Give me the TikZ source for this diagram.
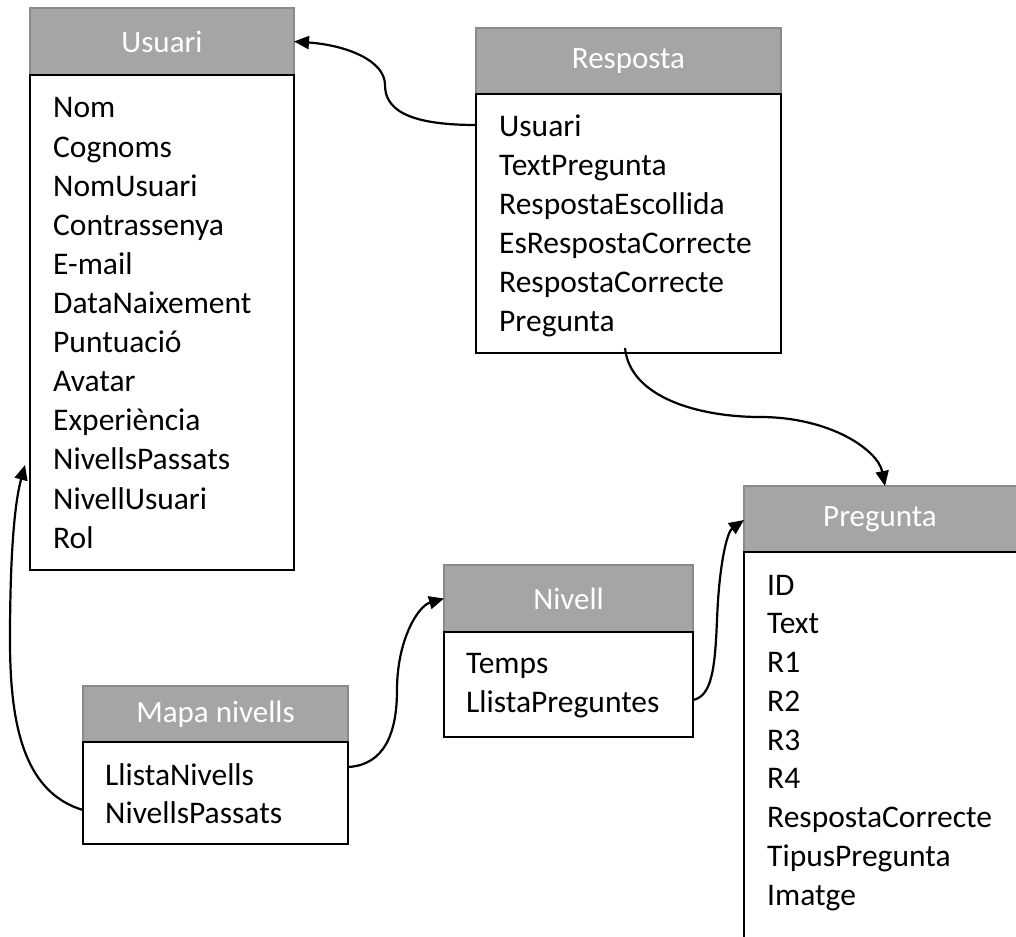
\documentclass[tikz,border=0pt]{standalone}
\usepackage{fontspec}
\setmainfont{Carlito}
\usetikzlibrary{arrows.meta}
\definecolor{hdrgray}{HTML}{A5A5A5}
\definecolor{hdrline}{HTML}{8A8A8A}
\tikzset{
  hdr/.style={rectangle, fill=hdrgray, draw=hdrline, line width=2pt, inner sep=0pt,
    outer sep=0pt, anchor=north west},
  title/.style={text=white, font=\fontsize{31}{37}\selectfont},
  bodybox/.style={rectangle, draw=black, line width=2.2pt, inner sep=0pt,
    outer sep=0pt, anchor=north west, fill=white},
  item/.style={anchor=base west, inner sep=0pt, font=\fontsize{31.5}{37}\selectfont},
  link/.style={line width=2.2pt, -{Triangle[length=15pt,width=13pt]}},
}
\begin{document}
\begin{tikzpicture}[x=1pt,y=-1pt]
\useasboundingbox (0,0) rectangle (1016,936);
\clip (0,0) rectangle (1016,936);

% Usuari
\node[hdr, minimum width=264, minimum height=67] (usuH) at (30,8) {};
\node[title] (usuT) at (usuH.center) {Usuari};
\node[bodybox, minimum width=264, minimum height=495] (usuB) at (30,75) {};
\foreach \t [count=\i] in {Nom,Cognoms,NomUsuari,Contrassenya,E-mail,DataNaixement,Puntuació,Avatar,Experiència,NivellsPassats,NivellUsuari,Rol}
  \node[item] (u\i) at (53,{118+(\i-1)*39.1}) {\t};

% Resposta
\node[hdr, minimum width=305, minimum height=66] (resH) at (476,28) {};
\node[title] (resT) at (resH.center) {Resposta};
\node[bodybox, minimum width=305, minimum height=259] (resB) at (476,94) {};
\foreach \t [count=\i] in {Usuari,TextPregunta,RespostaEscollida,EsRespostaCorrecte,RespostaCorrecte,Pregunta}
  \node[item] (r\i) at (499,{137+(\i-1)*38.8}) {\t};

% Pregunta
\node[hdr, minimum width=310, minimum height=66] (preH) at (744,486) {};
\node[title] (preT) at (880,519) {Pregunta};
\node[bodybox, minimum width=310, minimum height=460] (preB) at (744,552) {};
\foreach \t [count=\i] in {ID,Text,R1,R2,R3,R4,RespostaCorrecte,TipusPregunta,Imatge}
  \node[item] (p\i) at (767,{595+(\i-1)*38.75}) {\t};

% Nivell
\node[hdr, minimum width=249, minimum height=67] (nivH) at (444,565) {};
\node[title] (nivT) at (nivH.center) {Nivell};
\node[bodybox, minimum width=249, minimum height=105] (nivB) at (444,632) {};
\node[item] (n1) at (466,673) {Temps};
\node[item] (n2) at (466,712) {LlistaPreguntes};

% Mapa nivells
\node[hdr, minimum width=265, minimum height=56] (mapH) at (83,686) {};
\node[title] (mapT) at (mapH.center) {Mapa nivells};
\node[bodybox, minimum width=265, minimum height=102] (mapB) at (83,742) {};
\node[item] (m1) at (105,785) {LlistaNivells};
\node[item] (m2) at (105,823) {NivellsPassats};

% connectors
\coordinate (a1) at (resB.west |- 0,125);
\coordinate (a1m) at (385,85);
\coordinate (a1e) at (usuH.east);
\draw[link] (a1) .. controls (405,125) and (385,108) .. (a1m)
  .. controls (385,60) and (345,45) .. (a1e);

\coordinate (b1) at (625,348);
\coordinate (b1m) at (760,417);
\coordinate (b1e) at (885,486);
\draw[link] (b1) .. controls (630,398) and (700,417) .. (b1m)
  .. controls (830,417) and (878,450) .. (b1e);

\coordinate (c1) at (mapB.west |- 0,810);
\coordinate (c1m) at (10,640);
\coordinate (c1e) at (25,465);
\draw[link] (c1) .. controls (22,792) and (10,720) .. (c1m)
  .. controls (10,560) and (14,505) .. (c1e);

\coordinate (d1) at (mapB.east |- 0,767);
\coordinate (d1m) at (397,690);
\coordinate (d1e) at (nivH.west);
\draw[link] (d1) .. controls (385,765) and (397,732) .. (d1m)
  .. controls (397,640) and (418,606) .. (d1e);

\coordinate (e1) at (nivB.east |- 0,700);
\coordinate (e1m) at (717,620);
\coordinate (e1e) at (744,520);
\draw[link] (e1) .. controls (712,696) and (715,668) .. (e1m)
  .. controls (719,565) and (727,532) .. (e1e);
\end{tikzpicture}
\end{document}
